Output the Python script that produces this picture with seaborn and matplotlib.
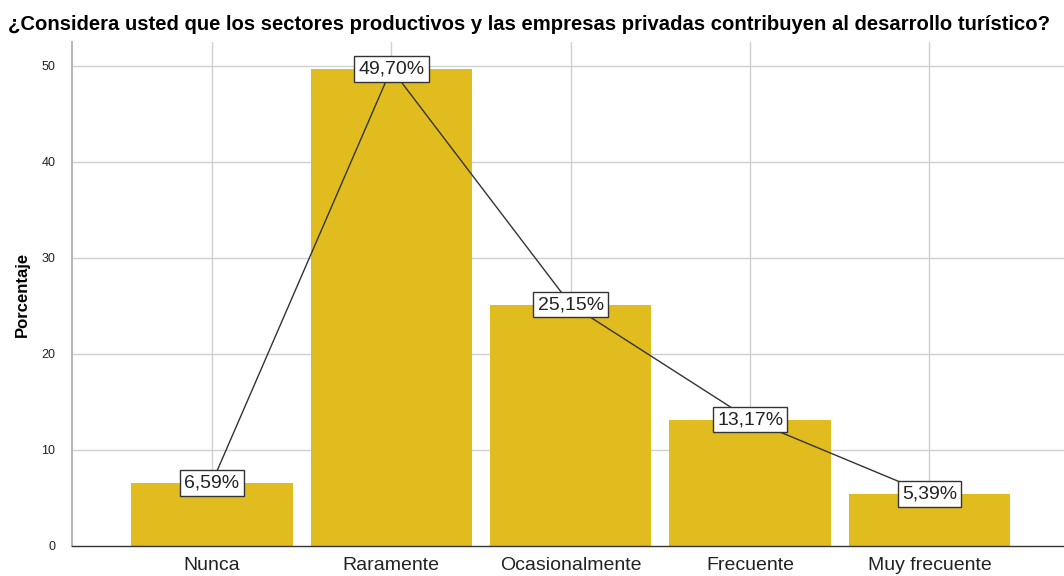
import matplotlib
matplotlib.use("Agg")
import matplotlib.pyplot as plt
import seaborn as sns
import pandas as pd

categories = ["Nunca", "Raramente", "Ocasionalmente", "Frecuente", "Muy frecuente"]
values = [6.59, 49.70, 25.15, 13.17, 5.39]
labels = ["6,59%", "49,70%", "25,15%", "13,17%", "5,39%"]
yticks = [0, 10, 20, 30, 40, 50]

df = pd.DataFrame({"cat": categories, "val": values})

sns.set_style("white")
plt.rcParams['font.family'] = ['Liberation Sans', 'DejaVu Sans']

fig = plt.figure(figsize=(10.64, 5.76), dpi=100)
ax = fig.add_axes([72/1064, 30/576, 1 - 72/1064, (546-42)/576])

sns.barplot(data=df, x="cat", y="val", color="#E0BC1E", saturation=1, width=0.9, ax=ax, zorder=2)
for p in ax.patches:
    p.set_edgecolor("none")
sns.lineplot(data=df, x="cat", y="val", color="#333333", linewidth=1.0, ax=ax, zorder=3, sort=False)

for i, (v, lab) in enumerate(zip(values, labels)):
    ax.text(i, v, lab, ha="center", va="center", fontsize=14, color="#222222", zorder=5,
            bbox=dict(boxstyle="square,pad=0.22", facecolor="white", edgecolor="#333333", linewidth=1.0))

ax.set_xlim(-0.78, 4.75)
ax.set_ylim(0, 52.5)
ax.set_yticks(yticks)
ax.set_yticklabels([str(t) for t in yticks], fontsize=9, color="#222222")
ax.tick_params(axis="x", labelsize=14, colors="#222222", length=0, pad=8)
ax.tick_params(axis="y", length=0, pad=12)
ax.set_xlabel("")
ax.set_ylabel("Porcentaje", fontsize=12, fontweight="bold", color="black", labelpad=8)

for t in yticks[1:]:
    ax.axhline(t, color="#d0d0d0", linewidth=1, zorder=1)
for i in range(len(categories)):
    ax.axvline(i, color="#d0d0d0", linewidth=1, zorder=1)

for s in ["top", "right"]:
    ax.spines[s].set_visible(False)
ax.spines["left"].set_color("#aaaaaa")
ax.spines["left"].set_linewidth(1.2)
ax.spines["bottom"].set_color("#333333")
ax.spines["bottom"].set_linewidth(1.0)

fig.text(8/1064, 1 - 25/576, "¿Considera usted que los sectores productivos y las empresas privadas contribuyen al desarrollo turístico?",
         fontsize=14.6, fontweight="bold", ha="left", va="center", color="black")

fig.savefig("out.png", dpi=100)
